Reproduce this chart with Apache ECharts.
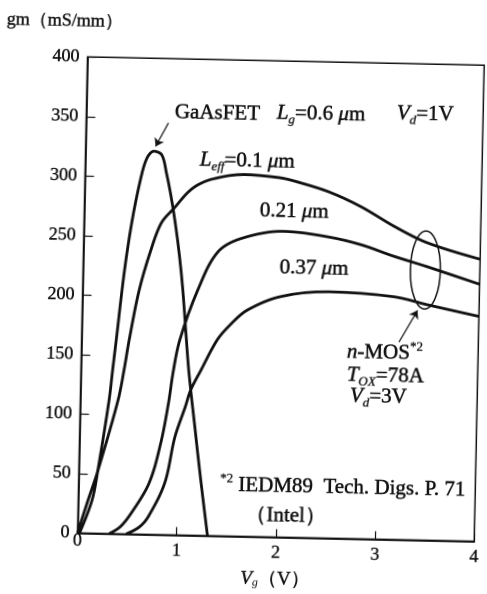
<!DOCTYPE html>
<html>
<head>
<meta charset="utf-8">
<title>gm vs Vg</title>
<script src="https://cdn.jsdelivr.net/npm/echarts@6/dist/echarts.min.js"></script>
<style>
  html, body { margin: 0; padding: 0; background: #fff; overflow: hidden; }
  /* the scanned original sits a little crooked, about 1.2 degrees clockwise */
  #main { width: 487px; height: 594px; transform: rotate(1.2deg); }
</style>
</head>
<body>
<div id="main"></div>
<script>
  // ---- data ----
  var xTicks = [0, 1, 2, 3, 4];                                // Vg (V)
  var yTicks = [0, 50, 100, 150, 200, 250, 300, 350, 400];     // gm (mS/mm)

  // GaAsFET  Lg = 0.6 um, Vd = 1V
  var gaasVg = [0.02, 0.14, 0.19, 0.29, 0.32, 0.35, 0.415, 0.48, 0.56, 0.62, 0.69, 0.77, 0.82, 0.87, 0.92, 0.97, 1.01, 1.05, 1.09, 1.16, 1.23, 1.31];
  var gaasGm = [0, 28, 52, 112, 138, 163, 219, 261, 298, 316, 322, 319, 304, 285, 262, 234, 206, 170, 136, 91, 47, 0];

  // n-MOS  Leff = 0.1 um
  var mos01Vg = [0, 0.10, 0.19, 0.38, 0.435, 0.48, 0.57, 0.68, 0.78, 0.91, 1.04, 1.15, 1.30, 1.60, 1.96, 2.13, 2.46, 2.79, 3.13, 3.46, 4.0];
  var mos01Gm = [0, 28, 52, 112, 138, 163, 205, 239, 262, 275, 288, 295, 300, 304, 302, 299, 291, 279, 263, 250, 237];

  // n-MOS  0.21 um
  var mos021Vg = [0.32, 0.43, 0.54, 0.71, 0.82, 0.89, 0.93, 0.99, 1.16, 1.35, 1.58, 2.01, 2.47, 2.80, 3.13, 3.46, 4.0];
  var mos021Gm = [0, 6, 18, 43, 77, 111, 137, 164, 206, 238, 250, 257, 253, 247, 238, 230, 216];

  // n-MOS  0.37 um
  var mos037Vg = [0.49, 0.62, 0.71, 0.87, 0.96, 1.06, 1.11, 1.21, 1.37, 1.50, 1.66, 1.99, 2.48, 3.14, 3.47, 4.0];
  var mos037Gm = [0, 6, 15, 44, 82, 108, 122, 139, 165, 178, 190, 202, 207, 204, 198, 189];

  var INK = '#111';
  var FONT = '"Liberation Serif", "DejaVu Serif", serif';

  function pairs(xs, ys) {
    return xs.map(function (x, i) { return [x, ys[i]]; });
  }

  function curve(name, xs, ys) {
    return {
      name: name,
      type: 'line',
      data: pairs(xs, ys),
      showSymbol: false,
      smooth: 0.35,
      lineStyle: { color: INK, width: 2.8 },
      silent: true
    };
  }

  // rich styles for the free text (zrender style, so "fill"); a thin stroke
  // gives the heavy print look of the original
  var RICH = {
    n: { fontFamily: FONT, fontSize: 21, lineHeight: 26, fill: INK, stroke: INK, lineWidth: 0.5 },
    i: { fontFamily: FONT, fontSize: 21, lineHeight: 26, fontStyle: 'italic', fill: INK, stroke: INK, lineWidth: 0.5 },
    s: { fontFamily: FONT, fontSize: 13, lineHeight: 14, fontStyle: 'italic', verticalAlign: 'bottom', fill: INK, stroke: INK, lineWidth: 0.3 },
    p: { fontFamily: FONT, fontSize: 13, lineHeight: 14, verticalAlign: 'top', fill: INK, stroke: INK, lineWidth: 0.3 }
  };

  function note(x, y, text, rich) {
    return {
      type: 'text', x: x, y: y, silent: true,
      style: { text: text, rich: rich || RICH, align: 'left', verticalAlign: 'middle', fill: INK, fontFamily: FONT, fontSize: 21 }
    };
  }

  // canvas at 2x so the css rotation stays crisp
  var myChart = echarts.init(document.getElementById('main'), null, { renderer: 'canvas', devicePixelRatio: 2 });

  var series = [
    curve('GaAsFET', gaasVg, gaasGm),
    curve('Leff=0.1um', mos01Vg, mos01Gm),
    curve('0.21um', mos021Vg, mos021Gm),
    curve('0.37um', mos037Vg, mos037Gm)
  ];

  // the two pointer arrows
  series[0].markLine = {
    silent: true,
    symbol: ['none', 'arrow'],
    symbolSize: 8,
    label: { show: false },
    lineStyle: { color: INK, width: 1.2, type: 'solid' },
    data: [
      [{ coord: [0.83, 346] }, { coord: [0.705, 326] }],
      [{ coord: [3.20, 166] }, { coord: [3.38, 193] }]
    ]
  };

  var labelStyle = {
    color: INK, fontFamily: FONT, fontSize: 18,
    textBorderColor: INK, textBorderWidth: 0.4
  };

  var option = {
    backgroundColor: '#fff',
    animation: false,
    textStyle: { fontFamily: FONT },
    grid: {
      left: 82.5, right: 1, top: 60.3, bottom: 57.6,
      show: true, borderColor: INK, borderWidth: 1.5, backgroundColor: 'transparent'
    },
    xAxis: {
      type: 'value',
      min: xTicks[0], max: xTicks[xTicks.length - 1], interval: 1,
      axisLine: { show: true, onZero: false, lineStyle: { color: INK, width: 1.8 } },
      axisTick: { show: true, inside: true, length: 8, lineStyle: { color: INK, width: 1.2 } },
      splitLine: { show: false },
      axisLabel: Object.assign({
        margin: 7,
        formatter: function (v) { return v === 0 ? '{z|0}' : String(v); },
        rich: { z: { fontFamily: FONT, fontSize: 18, lineHeight: 2, color: INK, textBorderColor: INK, textBorderWidth: 0.4 } }
      }, labelStyle),
      name: '{v|V}{s|g}{n|（V）}',
      nameLocation: 'middle',
      nameGap: 32,
      nameTextStyle: {
        fontFamily: FONT, fontSize: 18, color: INK,
        rich: {
          v: { fontFamily: FONT, fontSize: 19, fontStyle: 'italic', color: INK, lineHeight: 20, textBorderColor: INK, textBorderWidth: 0.4 },
          s: { fontFamily: FONT, fontSize: 12, fontStyle: 'italic', color: INK, lineHeight: 12, verticalAlign: 'bottom' },
          n: { fontFamily: FONT, fontSize: 19, color: INK, lineHeight: 20, textBorderColor: INK, textBorderWidth: 0.4 }
        }
      }
    },
    yAxis: {
      type: 'value',
      min: yTicks[0], max: yTicks[yTicks.length - 1], interval: 50,
      axisLine: { show: true, lineStyle: { color: INK, width: 1.8 } },
      axisTick: { show: true, inside: true, length: 9, lineStyle: { color: INK, width: 1.2 } },
      splitLine: { show: false },
      axisLabel: Object.assign({ margin: 8 }, labelStyle)
    },
    series: series
  };

  myChart.setOption(option);

  // ellipse grouping the three MOS curves, placed from data coords
  var c = myChart.convertToPixel({ gridIndex: 0 }, [3.45, 227]);

  myChart.setOption({
    graphic: [
      note(1, 25, '{n|gm（mS/mm）}', {
        n: { fontFamily: FONT, fontSize: 18, lineHeight: 22, fill: INK, stroke: INK, lineWidth: 0.4 }
      }),
      note(171, 114, '{n|GaAsFET}'),
      note(273, 112.5, '{i|L}{s|g}{n|=0.6 }{i|μ}{n|m}'),
      note(393, 110.5, '{i|V}{s|d}{n|=1V}'),
      note(197, 161, '{i|L}{s|eff}{n|=0.1 }{i|μ}{n|m}'),
      note(258, 210.7, '{n|0.21 }{i|μ}{n|m}'),
      note(279, 267, '{n|0.37 }{i|μ}{n|m}'),
      note(348, 350, '{i|n}{n|-MOS}{p|*2}'),
      note(348.5, 373, '{i|T}{s|OX}{n|=78A}'),
      note(352, 394, '{i|V}{s|d}{n|=3V}'),
      note(224, 485.5, '{p|*2}{n| IEDM89  Tech. Digs. P. 71}'),
      note(250, 515, '{n|（Intel）}'),
      {
        type: 'ellipse', silent: true,
        shape: { cx: c[0], cy: c[1], rx: 15, ry: 39 },
        style: { fill: 'none', stroke: INK, lineWidth: 1.5 }
      }
    ]
  });

  window.onresize = function () {
    myChart.resize();
  };
</script>
</body>
</html>
